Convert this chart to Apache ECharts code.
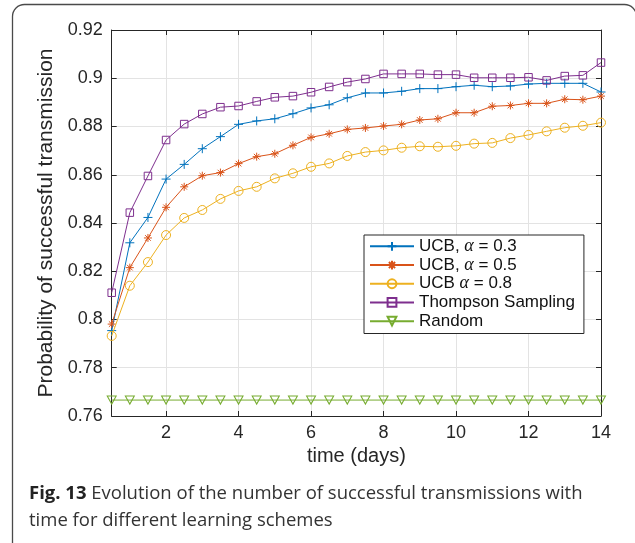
<!DOCTYPE html>
<html>
<head>
<meta charset="utf-8">
<script src="https://cdn.jsdelivr.net/npm/echarts@6/dist/echarts.min.js"></script>
<style>
  html, body { margin: 0; padding: 0; background: #fff; }
  #chart { width: 635px; height: 543px; }
</style>
</head>
<body>
<div id="chart"></div>
<script>
// x values (days), one sample every half day
var days = [0.5, 1, 1.5, 2, 2.5, 3, 3.5, 4, 4.5, 5, 5.5, 6, 6.5, 7,
            7.5, 8, 8.5, 9, 9.5, 10, 10.5, 11, 11.5, 12, 12.5, 13, 13.5, 14];
var xTicks = [2, 4, 6, 8, 10, 12, 14];

var ucb03 = [0.7954, 0.8318, 0.8423, 0.8582, 0.8643, 0.8708, 0.8758, 0.8809, 0.8823, 0.8832,
             0.8853, 0.8877, 0.8890, 0.8919, 0.8939, 0.8939, 0.8946, 0.8957, 0.8957, 0.8965,
             0.8971, 0.8965, 0.8968, 0.8976, 0.8979, 0.8979, 0.8979, 0.8943];
var ucb05 = [0.7981, 0.8215, 0.8338, 0.8465, 0.8550, 0.8596, 0.8609, 0.8646, 0.8675, 0.8687,
             0.8722, 0.8755, 0.8770, 0.8788, 0.8794, 0.8802, 0.8809, 0.8827, 0.8832, 0.8857,
             0.8857, 0.8884, 0.8887, 0.8896, 0.8896, 0.8913, 0.8911, 0.8926];
var ucb08 = [0.7932, 0.8140, 0.8238, 0.8350, 0.8421, 0.8454, 0.8500, 0.8533, 0.8550, 0.8585,
             0.8606, 0.8633, 0.8647, 0.8678, 0.8694, 0.8701, 0.8712, 0.8718, 0.8716, 0.8720,
             0.8729, 0.8732, 0.8752, 0.8765, 0.8780, 0.8795, 0.8803, 0.8816];
var thompson = [0.8111, 0.8443, 0.8595, 0.8744, 0.8810, 0.8852, 0.8880, 0.8885, 0.8904, 0.8921,
                0.8926, 0.8942, 0.8964, 0.8984, 0.8997, 0.9018, 0.9018, 0.9018, 0.9015, 0.9015,
                0.9002, 0.9002, 0.9002, 0.9004, 0.8991, 0.9009, 0.9012, 0.9065];
var random = [0.7666, 0.7666, 0.7666, 0.7666, 0.7666, 0.7666, 0.7666, 0.7666, 0.7666, 0.7666,
              0.7666, 0.7666, 0.7666, 0.7666, 0.7666, 0.7666, 0.7666, 0.7666, 0.7666, 0.7666,
              0.7666, 0.7666, 0.7666, 0.7666, 0.7666, 0.7666, 0.7666, 0.7666];

var names = ['UCB, α = 0.3', 'UCB, α = 0.5', 'UCB α = 0.8', 'Thompson Sampling', 'Random'];
var colors = ['#0072BD', '#D95319', '#EDB120', '#7E2F8E', '#77AC30'];

var axisColor = '#262626';
var font = 'Liberation Sans';

function pairs(ys) {
    return ys.map(function(y, i) { return [days[i], y]; });
}

// marker shapes, MATLAB style
var markers = [
    { symbol: 'path://M5,0L5,10M0,5L10,5', size: 9 },
    { symbol: 'path://M5,0L5,10M0,5L10,5M1.5,1.5L8.5,8.5M8.5,1.5L1.5,8.5', size: 8 },
    { symbol: 'circle', size: 9 },
    { symbol: 'rect', size: 7.5 },
    { symbol: 'path://M0,0L10,0L5,8.66Z', size: [9, 8] }
];

function makeSeries(idx, ys) {
    return {
        name: names[idx],
        type: 'line',
        data: pairs(ys),
        symbol: markers[idx].symbol,
        symbolSize: markers[idx].size,
        showAllSymbol: true,
        lineStyle: { color: colors[idx], width: 1 },
        itemStyle: { color: 'rgba(255,255,255,0)', borderColor: colors[idx], borderWidth: 1 },
        emphasis: { disabled: true },
        z: 2 + idx,
        animation: false
    };
}

var chart = echarts.init(document.getElementById('chart'), null, { renderer: 'canvas' });

var option = {
    backgroundColor: '#fff',
    animation: false,
    grid: { left: 111.7, top: 30, right: 34, bottom: 127, containLabel: false },
    xAxis: [{
        type: 'value',
        min: 0.5,
        max: 14,
        position: 'bottom',
        name: 'time (days)',
        nameLocation: 'middle',
        nameGap: 28,
        nameTextStyle: { fontFamily: font, fontSize: 20, color: axisColor },
        axisLine: { lineStyle: { color: axisColor, width: 1 } },
        axisTick: { inside: true, length: 5, customValues: xTicks, lineStyle: { color: axisColor } },
        axisLabel: { customValues: xTicks, fontFamily: font, fontSize: 18, color: axisColor, margin: 8 },
        splitLine: { show: true, lineStyle: { color: '#e3e3e3', width: 1 } }
    }, {
        type: 'value',
        min: 0.5,
        max: 14,
        position: 'top',
        axisLine: { show: true, lineStyle: { color: axisColor, width: 1 } },
        axisTick: { inside: true, length: 5, customValues: xTicks, lineStyle: { color: axisColor } },
        axisLabel: { show: false },
        splitLine: { show: false }
    }],
    yAxis: [{
        type: 'value',
        min: 0.76,
        max: 0.92,
        interval: 0.02,
        position: 'left',
        name: 'Probability of successful transmission',
        nameLocation: 'middle',
        nameGap: 53,
        nameTextStyle: { fontFamily: font, fontSize: 21, color: axisColor },
        axisLine: { show: true, lineStyle: { color: axisColor, width: 1 } },
        axisTick: { show: true, inside: true, length: 5, lineStyle: { color: axisColor } },
        axisLabel: {
            fontFamily: font, fontSize: 18, color: axisColor, margin: 9,
            formatter: function(v) { return String(parseFloat(v.toFixed(2))); }
        },
        splitLine: { show: true, lineStyle: { color: '#e3e3e3', width: 1 } }
    }, {
        type: 'value',
        min: 0.76,
        max: 0.92,
        interval: 0.02,
        position: 'right',
        axisLine: { show: true, lineStyle: { color: axisColor, width: 1 } },
        axisTick: { show: true, inside: true, length: 5, lineStyle: { color: axisColor } },
        axisLabel: { show: false },
        splitLine: { show: false }
    }],
    legend: {
        orient: 'vertical',
        left: 364,
        top: 235,
        data: names,
        itemWidth: 44,
        itemHeight: 11,
        itemGap: 0,
        padding: [2, 9, 3, 5],
        borderColor: axisColor,
        borderWidth: 1,
        backgroundColor: '#fff',
        selectedMode: false,
        textStyle: {
            fontFamily: font, fontSize: 17, color: '#111', lineHeight: 18.7,
            rich: {
                a: { fontFamily: 'Liberation Serif', fontStyle: 'italic', fontSize: 18, color: '#111', lineHeight: 18.7 }
            }
        },
        formatter: function(name) {
            return name.replace('α', '{a|α}');
        }
    },
    series: [
        makeSeries(0, ucb03),
        makeSeries(1, ucb05),
        makeSeries(2, ucb08),
        makeSeries(3, thompson),
        makeSeries(4, random)
    ],
    graphic: [{
        type: 'rect',
        silent: true,
        shape: { x: 12.5, y: 4.5, width: 624, height: 600, r: 12 },
        style: { fill: 'none', stroke: '#4a4a4a', lineWidth: 1.3 },
        z: -1
    }, {
        type: 'text',
        left: 29,
        top: 480,
        silent: true,
        style: {
            text: '{b|Fig. 13} Evolution of the number of successful transmissions with\ntime for different learning schemes',
            fontFamily: 'Open Sans',
            fontSize: 18.5,
            lineHeight: 27,
            fill: '#333',
            rich: {
                b: { fontFamily: 'Open Sans', fontWeight: 'bold', fontSize: 18.5, fill: '#222', lineHeight: 27 }
            }
        }
    }]
};

chart.setOption(option);
</script>
</body>
</html>
